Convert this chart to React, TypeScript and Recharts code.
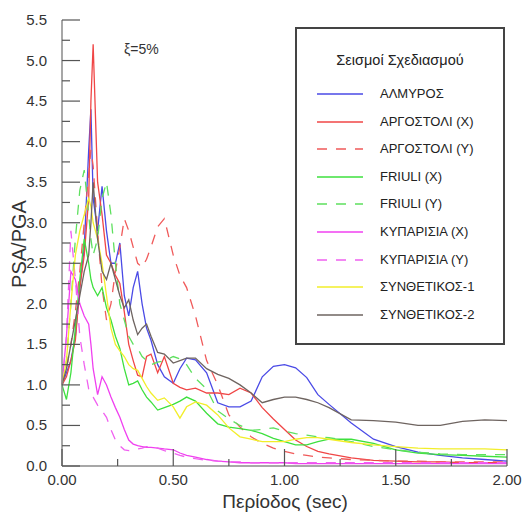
import { LineChart, Line, XAxis, YAxis } from 'recharts'

const periods = [0, 0.02, 0.04, 0.06, 0.08, 0.1, 0.12, 0.13, 0.14, 0.16, 0.18, 0.2, 0.22, 0.24, 0.26, 0.28, 0.3, 0.32, 0.34, 0.36, 0.38, 0.4, 0.43, 0.46, 0.5, 0.53, 0.56, 0.6, 0.65, 0.7, 0.75, 0.8, 0.85, 0.9, 0.95, 1.0, 1.05, 1.1, 1.15, 1.2, 1.3, 1.4, 1.5, 1.6, 1.7, 1.8, 1.9, 2.0]

const almyros = [1.0, 1.15, 1.3, 1.6, 2.2, 2.7, 3.9, 4.4, 3.3, 2.9, 3.45, 2.9, 2.5, 2.5, 2.75, 2.1, 1.85, 2.2, 2.4, 2.0, 1.7, 1.55, 1.25, 1.1, 1.02, 1.2, 1.33, 1.31, 1.15, 0.78, 0.73, 0.73, 0.8, 1.1, 1.23, 1.25, 1.21, 1.09, 0.88, 0.76, 0.53, 0.33, 0.24, 0.17, 0.13, 0.1, 0.08, 0.06]
const argostoliX = [1.0, 1.1, 1.3, 1.55, 2.2, 2.6, 3.3, 4.5, 5.2, 3.5, 3.1, 2.6, 2.5, 2.35, 2.25, 1.9, 1.5, 1.3, 1.12, 1.1, 1.35, 1.38, 1.15, 1.35, 1.02, 0.97, 0.94, 0.96, 0.9, 0.9, 0.88, 0.96, 0.9, 0.72, 0.58, 0.45, 0.32, 0.24, 0.18, 0.15, 0.1, 0.07, 0.06, 0.05, 0.05, 0.04, 0.04, 0.04]
const argostoliY = [1.0, 1.2, 1.5, 1.9, 2.4, 3.0, 3.6, 3.9, 3.7, 2.9, 2.2, 1.8, 2.0, 2.4, 2.7, 3.05, 2.9, 2.7, 2.5, 2.45, 2.55, 2.7, 2.95, 3.05, 2.6, 2.35, 2.2, 1.85, 1.3, 1.0, 0.63, 0.48, 0.36, 0.28, 0.22, 0.18, 0.15, 0.13, 0.11, 0.1, 0.08, 0.07, 0.06, 0.06, 0.05, 0.05, 0.05, 0.05]
const friuliX = [1.0, 0.82, 1.15, 1.7, 2.3, 2.8, 2.5, 2.3, 2.2, 2.1, 2.2, 1.95, 1.8, 1.6, 1.45, 1.2, 1.0, 1.02, 1.05, 0.94, 0.85, 0.79, 0.69, 0.72, 0.76, 0.8, 0.85, 0.8, 0.65, 0.52, 0.48, 0.46, 0.44, 0.4, 0.34, 0.3, 0.26, 0.26, 0.3, 0.33, 0.33, 0.28, 0.2, 0.16, 0.14, 0.13, 0.12, 0.11]
const friuliY = [1.0, 1.3, 2.0, 2.8, 3.4, 3.65, 3.1, 2.8, 2.6, 2.8, 3.3, 3.5, 3.1, 2.5, 2.0, 1.8, 1.6, 1.5, 1.45, 1.35, 1.3, 1.25, 1.28, 1.3, 1.35, 1.32, 1.25, 1.08, 0.95, 0.68, 0.58, 0.5, 0.44, 0.45, 0.47, 0.43, 0.4, 0.38, 0.36, 0.35, 0.3, 0.24, 0.2, 0.17, 0.15, 0.14, 0.14, 0.14]
const kyparissiaX = [1.0, 1.6, 2.4, 2.3, 2.0, 1.85, 1.75, 1.5, 1.2, 0.88, 1.1, 1.0, 0.85, 0.72, 0.6, 0.45, 0.32, 0.27, 0.25, 0.24, 0.23, 0.23, 0.22, 0.21, 0.2, 0.16, 0.13, 0.11, 0.08, 0.06, 0.05, 0.04, 0.04, 0.04, 0.04, 0.04, 0.03, 0.03, 0.03, 0.03, 0.03, 0.03, 0.03, 0.03, 0.03, 0.03, 0.03, 0.03]
const kyparissiaY = [1.0, 1.6, 2.9, 2.3, 1.6, 1.25, 0.95, 0.88, 0.85, 0.75, 0.68, 0.6, 0.45, 0.32, 0.25, 0.2, 0.19, 0.2, 0.21, 0.22, 0.24, 0.24, 0.22, 0.19, 0.16, 0.13, 0.11, 0.09, 0.07, 0.06, 0.05, 0.05, 0.04, 0.04, 0.04, 0.04, 0.04, 0.04, 0.04, 0.04, 0.04, 0.04, 0.04, 0.04, 0.04, 0.04, 0.04, 0.04]
const synthetic1 = [1.0, 1.3, 2.0, 2.6, 2.9, 3.1, 3.3, 3.2, 3.0, 2.8, 2.5, 2.1, 1.7, 1.5, 1.42, 1.35, 1.25, 1.2, 1.18, 1.08, 0.98, 0.9, 0.81, 0.84, 0.73, 0.59, 0.73, 0.79, 0.75, 0.63, 0.47, 0.36, 0.33, 0.3, 0.3, 0.3, 0.33, 0.35, 0.35, 0.33, 0.29, 0.26, 0.24, 0.22, 0.21, 0.21, 0.21, 0.2]
const synthetic2 = [1.0, 1.2, 1.5, 1.8, 2.1, 2.4, 2.6, 3.0, 3.5, 2.8, 2.4, 2.3, 2.5, 2.3, 2.1, 1.95, 2.05, 1.8, 1.62, 1.7, 1.75, 1.6, 1.4, 1.38, 1.27, 1.3, 1.33, 1.33, 1.2, 1.13, 1.08, 1.0, 0.9, 0.78, 0.82, 0.85, 0.85, 0.82, 0.78, 0.72, 0.57, 0.56, 0.54, 0.5, 0.5, 0.55, 0.57, 0.56]

const xTicks = [0, 0.25, 0.5, 0.75, 1, 1.25, 1.5, 1.75, 2]
const yTicks = [0, 0.25, 0.5, 0.75, 1, 1.25, 1.5, 1.75, 2, 2.25, 2.5, 2.75, 3, 3.25, 3.5, 3.75, 4, 4.25, 4.5, 4.75, 5, 5.25, 5.5]
const rightTicks = [0, 1, 2, 3, 4, 5, 6, 7, 8]

const series = [
  { key: 'almyros', name: 'ΑΛΜΥΡΟΣ', values: almyros, color: '#4a4ae6', dash: undefined },
  { key: 'argX', name: 'ΑΡΓΟΣΤΟΛΙ (X)', values: argostoliX, color: '#f04646', dash: undefined },
  { key: 'argY', name: 'ΑΡΓΟΣΤΟΛΙ (Y)', values: argostoliY, color: '#f05a5a', dash: '10 9' },
  { key: 'friX', name: 'FRIULI (X)', values: friuliX, color: '#3ee03e', dash: undefined },
  { key: 'friY', name: 'FRIULI (Y)', values: friuliY, color: '#5ee05e', dash: '10 9' },
  { key: 'kypX', name: 'ΚΥΠΑΡΙΣΙΑ (X)', values: kyparissiaX, color: '#f040f0', dash: undefined },
  { key: 'kypY', name: 'ΚΥΠΑΡΙΣΙΑ (Y)', values: kyparissiaY, color: '#f060f0', dash: '10 9' },
  { key: 'syn1', name: 'ΣΥΝΘΕΤΙΚΟΣ-1', values: synthetic1, color: '#f2ee2a', dash: undefined },
  { key: 'syn2', name: 'ΣΥΝΘΕΤΙΚΟΣ-2', values: synthetic2, color: '#6e6460', dash: undefined },
]

const data = periods.map((t, i) => {
  const row: Record<string, number> = { T: t }
  series.forEach((s) => (row[s.key] = s.values[i]))
  return row
})

const FONT = '"Liberation Sans", Arial, sans-serif'
const TICK = '#555'
const FRAME = '#8a8a8a'

const isMajor = (v: number) => Math.abs(v * 2 - Math.round(v * 2)) < 1e-6

const BottomTick = ({ x, y, payload }: any) => {
  const major = isMajor(payload.value)
  return (
    <g>
      <line x1={x} y1={y} x2={x} y2={y - (major ? 17 : 7)} stroke={TICK} strokeWidth={1.2} />
      {major && (
        <text x={x} y={y + 19} textAnchor="middle" fontSize={15} fill="#333" fontFamily={FONT}>
          {payload.value.toFixed(2)}
        </text>
      )}
    </g>
  )
}

const TopTick = ({ x, y, payload }: any) => (
  <line x1={x} y1={y} x2={x} y2={y + (isMajor(payload.value) ? 17 : 7)} stroke={TICK} strokeWidth={1.2} />
)

const LeftTick = ({ x, y, payload }: any) => {
  const major = isMajor(payload.value)
  return (
    <g>
      <line x1={x} y1={y} x2={x + (major ? 18 : 8)} y2={y} stroke={TICK} strokeWidth={1.2} />
      {major && (
        <text x={x - 15} y={y + 5} textAnchor="end" fontSize={15} fill="#333" fontFamily={FONT}>
          {payload.value.toFixed(1)}
        </text>
      )}
    </g>
  )
}

const RightTick = ({ x, y, payload }: any) => (
  <line x1={x} y1={y} x2={x - (payload.value % 2 === 0 ? 18 : 9)} y2={y} stroke={TICK} strokeWidth={1.2} />
)

function LegendBox() {
  return (
    <div
      style={{
        position: 'absolute',
        left: 295,
        top: 27,
        width: 206,
        height: 314,
        border: '2px solid #444',
        background: '#fff',
        fontFamily: FONT,
        color: '#222',
      }}
    >
      <div style={{ position: 'absolute', top: 23, width: '100%', textAlign: 'center', fontSize: 14.5 }}>
        Σεισμοί Σχεδιασμού
      </div>
      {series.map((s, i) => (
        <div key={s.key} style={{ position: 'absolute', left: 0, top: 56 + i * 27.6, height: 18, width: '100%' }}>
          <svg width={60} height={18} style={{ position: 'absolute', left: 20, top: 0 }}>
            <line x1={0} y1={9} x2={46} y2={9} stroke={s.color} strokeWidth={1.3} strokeDasharray={s.dash} />
          </svg>
          <span style={{ position: 'absolute', left: 83, top: 0, fontSize: 13, lineHeight: '18px' }}>{s.name}</span>
        </div>
      ))}
    </div>
  )
}

export default function App() {
  return (
    <div style={{ position: 'absolute', left: 0, top: 0, width: 525, height: 520, background: '#fff' }}>
      <LineChart width={525} height={520} data={data} margin={{ top: 20, right: 18, bottom: 24, left: 12 }}>
        <XAxis
          dataKey="T"
          type="number"
          domain={[0, 2]}
          ticks={xTicks}
          height={30}
          tickSize={0}
          tickMargin={0}
          tickLine={false}
          tick={<BottomTick />}
          axisLine={{ stroke: FRAME, strokeWidth: 1.5 }}
          interval={0}
        />
        <XAxis
          xAxisId="top"
          orientation="top"
          type="number"
          domain={[0, 2]}
          ticks={xTicks}
          height={0}
          tickSize={0}
          tickMargin={0}
          tickLine={false}
          tick={<TopTick />}
          axisLine={{ stroke: FRAME, strokeWidth: 1.5 }}
          interval={0}
        />
        <YAxis
          type="number"
          domain={[0, 5.5]}
          ticks={yTicks}
          width={50}
          tickSize={0}
          tickMargin={0}
          tickLine={false}
          tick={<LeftTick />}
          axisLine={{ stroke: FRAME, strokeWidth: 1.5 }}
          interval={0}
        />
        <YAxis
          yAxisId="right"
          orientation="right"
          type="number"
          domain={[0, 8]}
          ticks={rightTicks}
          width={0}
          tickSize={0}
          tickMargin={0}
          tickLine={false}
          tick={<RightTick />}
          axisLine={{ stroke: FRAME, strokeWidth: 1.5 }}
          interval={0}
        />
        {series.map((s) => (
          <Line
            key={s.key}
            dataKey={s.key}
            stroke={s.color}
            strokeWidth={1.3}
            strokeDasharray={s.dash}
            dot={false}
            activeDot={false}
            isAnimationActive={false}
          />
        ))}
      </LineChart>
      <div style={{ position: 'absolute', left: 124, top: 41, fontSize: 14, fontFamily: FONT, color: '#333' }}>ξ=5%</div>
      <div
        style={{
          position: 'absolute',
          left: 19,
          top: 244,
          transform: 'translate(-50%, -50%) rotate(-90deg)',
          fontSize: 20,
          fontFamily: FONT,
          color: '#333',
          whiteSpace: 'nowrap',
        }}
      >
        PSA/PGA
      </div>
      <div
        style={{
          position: 'absolute',
          left: 285,
          top: 502,
          transform: 'translate(-50%, -50%)',
          fontSize: 19,
          fontFamily: FONT,
          color: '#333',
          whiteSpace: 'nowrap',
        }}
      >
        Περίοδος (sec)
      </div>
      <LegendBox />
    </div>
  )
}
